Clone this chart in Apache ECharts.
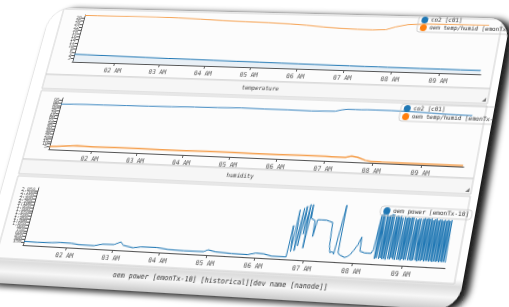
<!DOCTYPE html>
<html>
<head>
<meta charset="utf-8">
<script src="https://cdn.jsdelivr.net/npm/echarts@6/dist/echarts.min.js"></script>
<style>
html, body { margin: 0; padding: 0; background: #fff; overflow: hidden; width: 509px; height: 307px; }
#card {
    position: absolute; left: 0; top: 0; width: 500px; height: 282px;
    transform-origin: 0 0; border-radius: 22px; overflow: hidden;
    background: linear-gradient(to bottom, #fff 0%, #fff 90%, #dcdcdc 92.5%, #f7f7f7 96%, #c8c8c8 100%);
    box-shadow: 8px 1px 6px rgba(0,0,0,.85), 2px 4px 5px rgba(0,0,0,.35), 0 0 1px rgba(0,0,0,.5);
}
#chart { width: 500px; height: 282px; }
</style>
</head>
<body>
<div id="card"><div id="chart"></div></div>
<script>
// temperature panel
var tempTimes = ['01:03','01:20','01:45','02:15','02:40','03:10','03:40','04:10','04:40','05:10','05:38','06:00',
                 '06:22','06:45','07:06','07:25','07:42','07:54','08:09','08:35','09:00','09:25','09:50'];
var tempOem = [29.7,29.7,29.8,29.9,29.9,29.6,29.2,28.6,28.3,28.0,27.6,27.0,26.2,25.6,25.3,25.2,25.5,27.4,29.0,29.6,29.8,29.8,29.9];
var tempCo2 = [4.8,4.7,4.5,4.3,4.1,3.9,3.8,3.6,3.4,3.3,3.1,3.0,2.9,2.8,2.7,2.6,2.6,2.5,2.5,2.4,2.4,2.3,2.3];

// humidity panel
var humTimes = ['01:03','01:20','01:39','02:00','02:30','03:00','03:30','04:00','04:30','05:00','05:30','06:00','06:30',
                '07:00','07:08','07:15','07:25','07:32','07:40','07:50','07:57','08:10','08:30','09:00','09:15','09:30','09:50'];
var humCo2 = [88,88.5,89,89,89.5,90,90.5,91.5,92,93,92.5,92.5,92,93,96,97.5,97.5,97.5,98,98,98,98,97.5,96,95,94.5,94];
var humOem = [5,7,9,8,8.5,8.5,8,8,8.5,8.5,8,8,8.5,8.5,8,8,8,11,9,4,2.5,2.2,2,2,2,2,2];

// power panel
var powerTimes = ['01:03','01:20','01:40','01:50','02:05','02:15','02:35','02:45','03:00','03:08','03:12','03:25','03:35',
    '03:55','04:10','04:30','04:55','05:00','05:10','05:30','05:50','06:00','06:10','06:20','06:38',
    '06:39','06:41','06:42','06:43','06:45','06:46','06:48','06:49','06:51','06:52','06:53','06:55','06:56','06:58','06:59',
    '07:01','07:04','07:05','07:07','07:12','07:14','07:18','07:22','07:26','07:28','07:30','07:33','07:35','07:37','07:39',
    '07:40','07:43','07:46','07:49','07:52','07:55','07:58','08:02','08:05','08:06','08:08','08:12','08:16','08:20','08:22'];
var powerValues = [190,175,200,230,220,170,160,260,270,420,260,160,230,240,170,150,160,260,180,140,130,230,210,120,120,
    1700,1700,400,2500,2500,450,2600,700,2700,2700,1300,2800,600,2800,2100,
    2050,2000,1200,2050,2050,2100,2050,2000,1950,800,450,500,380,420,2850,
    450,350,300,250,300,400,600,900,1300,600,500,520,520,520,720];
// one reading a minute from 08:24
var denseStart = '08:24';
var denseValues = [
    2450,260,2500,300,2450,2450,280,2500,320,2400,
    260,2450,300,2500,250,2500,2500,300,2400,280,
    2450,350,2400,300,2450,260,2350,2350,280,2400,
    300,2350,250,2400,320,2350,280,2400,300,2400,
    2400,280,2350,300,2300,260,2350,300,2350,2350,
    300,2350,250,2400,300,2350,280,2400,320,2350,
    260,2400,300,2300,300,2350,280,2400,300,2300,
    260,2350,300,2350,280,2300,300,2350,260,2300,
    300,2350,280,2300,300,2350,260];

var axisStart = '01:03', axisEnd = '09:51';
var tempAxis = [0, 30, 2];
var humAxis = [0, 100, 5];
var powerAxis = [0, 3000, 150];

var nameCo2 = 'co2 [c01]';
var nameOem = 'oem temp/humid [emonTx-10]';
var namePower = 'oem power [emonTx-10]';
var mono = 'DejaVu Sans Mono';

function t(s) {
    var p = s.split(':');
    return new Date(2024, 0, 1, +p[0], +p[1]).getTime();
}
function pairs(times, vals) {
    return times.map(function (s, i) { return [t(s), vals[i]]; });
}
var powerData = pairs(powerTimes, powerValues);
denseValues.forEach(function (v, i) { powerData.push([t(denseStart) + i * 60000, v]); });

// tilt the card like the photo
function solve(A, b) {
    var n = b.length;
    for (var i = 0; i < n; i++) A[i].push(b[i]);
    for (var c = 0; c < n; c++) {
        var p = c;
        for (var r = c + 1; r < n; r++) if (Math.abs(A[r][c]) > Math.abs(A[p][c])) p = r;
        var tmp = A[c]; A[c] = A[p]; A[p] = tmp;
        for (var r2 = 0; r2 < n; r2++) {
            if (r2 === c) continue;
            var f = A[r2][c] / A[c][c];
            for (var k = c; k <= n; k++) A[r2][k] -= f * A[c][k];
        }
    }
    return A.map(function (row, i) { return row[n] / row[i]; });
}
function homography(src, dst) {
    var A = [], b = [];
    for (var i = 0; i < 4; i++) {
        var x = src[i][0], y = src[i][1], u = dst[i][0], v = dst[i][1];
        A.push([x, y, 1, 0, 0, 0, -x * u, -y * u]); b.push(u);
        A.push([0, 0, 0, x, y, 1, -x * v, -y * v]); b.push(v);
    }
    return solve(A, b);
}
var H = homography([[40, 7], [480, 7], [40, 244], [480, 244]],
                   [[85, 15], [490, 25], [23, 245], [445, 268]]);
document.getElementById('card').style.transform =
    'matrix3d(' + [H[0], H[3], 0, H[6], H[1], H[4], 0, H[7], 0, 0, 1, 0, H[2], H[5], 0, 1].join(',') + ')';

function hourLabel(v) {
    var h = new Date(v).getHours();
    var hh = h % 12 || 12;
    return (hh < 10 ? '0' : '') + hh + ' ' + (h < 12 ? 'AM' : 'PM');
}
function xAxis(i) {
    return {
        type: 'time', gridIndex: i, min: t(axisStart), max: t(axisEnd),
        minInterval: 3600000, maxInterval: 3600000,
        splitLine: { show: false },
        axisLine: { lineStyle: { color: '#555', width: 1 } },
        axisTick: { length: 3, lineStyle: { color: '#555' } },
        axisLabel: {
            formatter: hourLabel, fontSize: 6.5, fontFamily: mono, color: '#555', margin: 5,
            showMinLabel: false, showMaxLabel: false, hideOverlap: false
        }
    };
}
function yAxis(i, r) {
    return {
        type: 'value', gridIndex: i, min: r[0], max: r[1], interval: r[2],
        splitLine: { show: false },
        axisLine: { show: true, lineStyle: { color: '#555', width: 1 } },
        axisTick: { show: true, length: 3, lineStyle: { color: '#555' } },
        axisLabel: { fontSize: 5, fontFamily: mono, color: '#555', margin: 3, hideOverlap: false }
    };
}
function legend(top, names) {
    return {
        left: 405, top: top, orient: 'vertical', data: names, icon: 'circle',
        itemWidth: 7, itemHeight: 7, itemGap: 1, padding: [1, 3],
        borderColor: '#c8c8c8', borderWidth: 0.8, borderRadius: 3,
        textStyle: { fontSize: 6, fontFamily: mono, color: '#333', padding: [0, 0, 0, -2] }
    };
}
function box(x, y, w, h, fill) {
    return { type: 'rect', z: -10, shape: { x: x, y: y, width: w, height: h },
             style: { fill: fill, stroke: '#cfcfcf', lineWidth: 1 } };
}
function label(x, y, text, size, color) {
    return { type: 'text', z: -5, style: { text: text, x: x, y: y, font: size + 'px ' + mono, fill: color,
             align: 'center', verticalAlign: 'middle', textAlign: 'center', textVerticalAlign: 'middle' } };
}
function handle(y) {
    return { type: 'polygon', z: -5, shape: { points: [[490, y], [490, y - 4], [486, y]] }, style: { fill: '#777' } };
}

var chart = echarts.init(document.getElementById('chart'));
chart.setOption({
    animation: false,
    color: ['#1f77b4', '#ff7f0e'],
    grid: [
        { left: 40, right: 20, top: 7, height: 50 },
        { left: 40, right: 20, top: 95, height: 53 },
        { left: 40, right: 20, top: 187, height: 57 }
    ],
    xAxis: [xAxis(0), xAxis(1), xAxis(2)],
    yAxis: [yAxis(0, tempAxis), yAxis(1, humAxis), yAxis(2, powerAxis)],
    legend: [
        legend(-1, [nameCo2, nameOem]),
        legend(89, [nameCo2, nameOem]),
        legend(189, [namePower])
    ],
    graphic: [
        box(14, 1, 478, 70, '#fcfcfc'), box(14, 71, 478, 15, '#f6f6f6'),
        box(14, 88, 478, 71, '#fcfcfc'), box(14, 159, 478, 15, '#f6f6f6'),
        box(14, 176, 478, 82, '#fcfcfc'),
        label(253, 78.5, 'temperature', 6, '#444'),
        label(253, 166.5, 'humidity', 6, '#444'),
        label(256, 268, 'oem power [emonTx-10] [historical][dev name [nanode]]', 7, '#333'),
        handle(84), handle(172)
    ],
    series: [
        {
            type: 'line', name: nameCo2, xAxisIndex: 0, yAxisIndex: 0, showSymbol: false,
            lineStyle: { width: 1, color: '#1f77b4' }, itemStyle: { color: '#1f77b4' },
            areaStyle: { color: 'rgba(31,119,180,0.12)' },
            data: pairs(tempTimes, tempCo2)
        },
        {
            type: 'line', name: nameOem, xAxisIndex: 0, yAxisIndex: 0, showSymbol: false,
            lineStyle: { width: 1, color: '#f5a04f' }, itemStyle: { color: '#ff7f0e' },
            data: pairs(tempTimes, tempOem)
        },
        {
            type: 'line', name: nameCo2, xAxisIndex: 1, yAxisIndex: 1, showSymbol: false,
            lineStyle: { width: 1, color: '#3b86c0' }, itemStyle: { color: '#1f77b4' },
            data: pairs(humTimes, humCo2)
        },
        {
            type: 'line', name: nameOem, xAxisIndex: 1, yAxisIndex: 1, showSymbol: false,
            lineStyle: { width: 1.5, color: '#f5a04f' }, itemStyle: { color: '#ff7f0e' },
            data: pairs(humTimes, humOem)
        },
        {
            type: 'line', name: namePower, xAxisIndex: 2, yAxisIndex: 2, showSymbol: false,
            lineStyle: { width: 1, color: '#1f77b4' }, itemStyle: { color: '#1f77b4' },
            data: powerData
        }
    ]
});
</script>
</body>
</html>
